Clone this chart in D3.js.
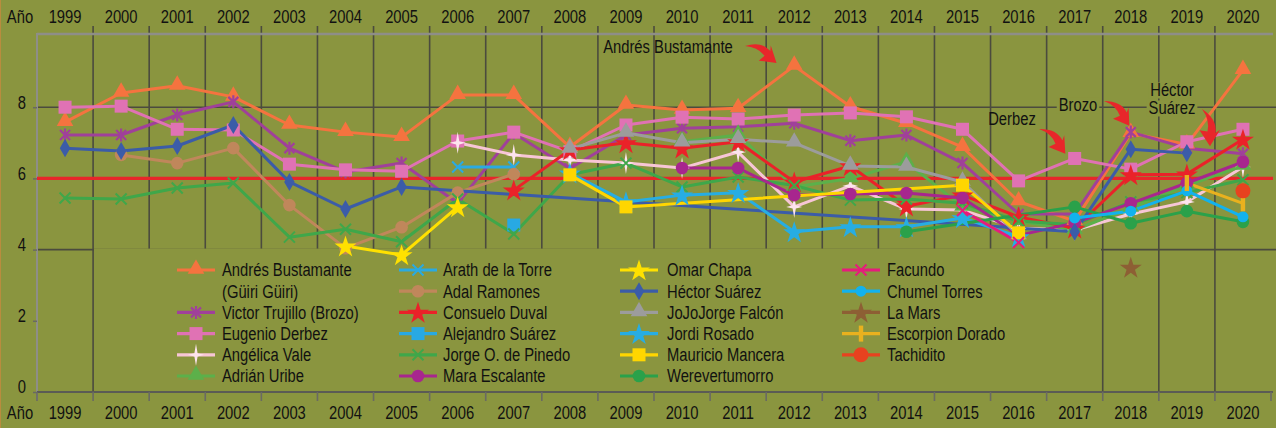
<!DOCTYPE html>
<html>
<head>
<meta charset="utf-8">
<script src="https://cdn.jsdelivr.net/npm/d3@7"></script>
<style>
  html, body { margin: 0; padding: 0; background: #8a953f; }
  svg text { font-family: "Liberation Sans", Arial, sans-serif; fill: #111; }
</style>
</head>
<body>
<svg id="chart" width="1276" height="428"></svg>
<script>
// años (categorias)
const years = ["1999","2000","2001","2002","2003","2004","2005","2006","2007","2008","2009",
               "2010","2011","2012","2013","2014","2015","2016","2017","2018","2019","2020"];
const yTicks = [0, 2, 4, 6, 8];

// valores, 1999..2020 (null = sin dato)
const andres    = [7.58, 8.40, 8.60, 8.29, 7.50, 7.30, 7.16, 8.34, 8.34, 6.88, 8.06, 7.92, 7.97, 9.16, 8.02, 7.55, 6.88, 5.35, 4.80, 7.27, 6.95, 9.04];
const brozo     = [7.22, 7.22, 7.78, 8.15, 6.85, 6.18, 6.43, 5.30, 7.27, 6.28, 7.22, 7.41, 7.45, 7.55, 7.06, 7.22, 6.43, 5.00, 5.00, 7.30, 6.85, 6.69];
const derbez    = [8.00, 8.03, 7.38, 7.36, 6.40, 6.24, 6.20, 7.05, 7.30, 6.75, 7.50, 7.72, 7.67, 7.78, 7.84, 7.73, 7.38, 5.93, 6.56, 6.26, 7.03, 7.38];
const angelica  = [null, null, null, null, null, null, null, 7.00, 6.66, 6.52, 6.43, 6.29, 6.74, 5.20, 5.79, 5.14, 5.11, 4.60, 4.55, 5.00, 5.34, 6.32];
const adrian    = [null, null, null, null, null, null, null, null, null, null, null, 7.03, 7.22, 5.76, 6.00, 6.46, 5.20, 4.80, 4.55, 5.17, 5.80, 6.35];
const arath     = [null, null, null, null, null, null, null, 6.32, 6.32, null, null, null, null, null, null, null, null, null, null, null, null, null];
const adal      = [null, 6.66, 6.43, 6.85, 5.25, 4.04, 4.63, 5.60, 6.12, null, null, null, null, null, null, null, null, null, null, null, null, null];
const consuelo  = [null, null, null, null, null, null, null, null, 5.67, 6.80, 7.00, 6.85, 7.03, 5.90, 6.35, 5.22, 5.53, 4.92, 4.60, 6.10, 6.12, 7.10];
const alejandro = [null, null, null, null, null, null, null, null, 4.69, null, null, null, null, null, null, null, null, null, null, null, null, null];
const jorge     = [5.45, 5.42, 5.73, 5.87, 4.35, 4.57, 4.22, 5.42, 4.44, 6.10, 6.43, 5.76, 6.04, 5.80, 5.39, 5.42, 5.30, 4.80, 4.70, 5.34, 5.60, 5.96];
const mara      = [null, null, null, null, null, null, null, null, null, null, null, 6.29, 6.29, 5.53, 5.56, 5.59, 5.45, 4.40, 4.75, 5.30, 5.87, 6.46];
const omar      = [null, null, null, null, null, 4.10, 3.85, 5.20, null, null, null, null, null, null, null, null, null, null, null, null, null, null];
const hector    = [6.85, 6.77, 6.91, 7.50, 5.90, 5.14, 5.76, null, null, null, null, null, null, null, null, null, null, null, 4.50, 6.82, 6.71, null];
const jojo      = [null, null, null, null, null, null, null, null, null, 6.83, 7.28, 7.00, 7.10, 7.00, 6.35, 6.32, 5.90, 4.40, null, null, null, null];
const jordi     = [null, null, null, null, null, null, null, null, null, 6.15, 5.34, 5.53, 5.60, 4.50, 4.64, 4.64, 4.89, 4.36, null, null, null, null];
const mauricio  = [null, null, null, null, null, null, null, null, null, 6.10, 5.20, null, null, null, null, null, 5.81, 4.47, null, null, null, null];
const were      = [null, null, null, null, null, null, null, null, null, null, null, null, null, null, null, 4.50, null, null, 5.20, 4.74, 5.08, 4.78];
const facundo   = [null, null, null, null, null, null, null, null, null, null, null, null, null, null, null, null, 5.10, 4.20, null, null, null, null];
const chumel    = [null, null, null, null, null, null, null, null, null, null, null, null, null, null, null, null, null, null, 4.89, 5.08, 5.65, 4.92];
const lamars    = [null, null, null, null, null, null, null, null, null, null, null, null, null, null, null, null, null, null, null, 3.50, null, null];
const escorpion = [null, null, null, null, null, null, null, null, null, null, null, null, null, null, null, null, null, null, null, null, 5.87, 5.30];
const tachidito = [null, null, null, null, null, null, null, null, null, null, null, null, null, null, null, null, null, null, null, null, null, 5.65];

// series: nombre, datos, color, marcador, columna/fila de la leyenda
const series = [
  {name: ["Andrés Bustamante", "(Güiri Güiri)"], data: andres, color: "#f5733f", mark: "triangle", col: 0, row: 0},
  {name: ["Victor Trujillo (Brozo)"], data: brozo, color: "#a0409a", mark: "asterisk", col: 0, row: 2},
  {name: ["Eugenio Derbez"], data: derbez, color: "#e072b4", mark: "square", col: 0, row: 3},
  {name: ["Angélica Vale"], data: angelica, color: "#f7c6d6", mark: "sparkle", col: 0, row: 4},
  {name: ["Adrián Uribe"], data: adrian, color: "#5cb04a", mark: "triangle", col: 0, row: 5},
  {name: ["Arath de la Torre"], data: arath, color: "#2aaae2", mark: "x", col: 1, row: 0},
  {name: ["Adal Ramones"], data: adal, color: "#c0875b", mark: "circle", col: 1, row: 1},
  {name: ["Consuelo Duval"], data: consuelo, color: "#ea2229", mark: "star", col: 1, row: 2},
  {name: ["Alejandro Suárez"], data: alejandro, color: "#28a9e3", mark: "square", col: 1, row: 3},
  {name: ["Jorge O. de Pinedo"], data: jorge, color: "#3fa74a", mark: "x", col: 1, row: 4},
  {name: ["Mara Escalante"], data: mara, color: "#a8268e", mark: "circle", col: 1, row: 5},
  {name: ["Omar Chapa"], data: omar, color: "#ffe100", mark: "star", col: 2, row: 0},
  {name: ["Héctor Suárez"], data: hector, color: "#3b5ca8", mark: "diamond", col: 2, row: 1},
  {name: ["JoJoJorge Falcón"], data: jojo, color: "#9c9c9c", mark: "triangle", col: 2, row: 2},
  {name: ["Jordi Rosado"], data: jordi, color: "#27ade3", mark: "star", col: 2, row: 3},
  {name: ["Mauricio Mancera"], data: mauricio, color: "#ffd600", mark: "square", col: 2, row: 4},
  {name: ["Werevertumorro"], data: were, color: "#2aa14a", mark: "circle", col: 2, row: 5},
  {name: ["Facundo"], data: facundo, color: "#e61c7c", mark: "x", col: 3, row: 0},
  {name: ["Chumel Torres"], data: chumel, color: "#12b2ee", mark: "dot", col: 3, row: 1},
  {name: ["La Mars"], data: lamars, color: "#8d5f34", mark: "star", col: 3, row: 2},
  {name: ["Escorpion Dorado"], data: escorpion, color: "#e9b11e", mark: "vbar", col: 3, row: 3},
  {name: ["Tachidito"], data: tachidito, color: "#e8421f", mark: "bigdot", col: 3, row: 4}
];

const notes = [
  {lines: ["Andrés Bustamante"], x: 668, y: 47, tail: [745, 46], tip: [777, 62], box: false},
  {lines: ["Derbez"], x: 1012, y: 119, tail: [1039, 129], tip: [1066, 153], box: false},
  {lines: ["Brozo"], x: 1078, y: 105, tail: [1104, 101], tip: [1130, 125], box: true},
  {lines: ["Héctor", "Suárez"], x: 1172, y: 90, tail: [1202, 109], tip: [1211, 146], box: true}
];

const svg = d3.select("#chart");
const bg = "#8a953f";
const fs = 18;

// texto angosto: se comprime horizontalmente
function squeeze(sel) {
  sel.each(function () {
    const len = this.getComputedTextLength();
    d3.select(this).attr("textLength", len * 0.82).attr("lengthAdjust", "spacingAndGlyphs");
  });
  return sel;
}

svg.append("rect").attr("width", 1276).attr("height", 428).attr("fill", bg);
svg.append("line").attr("x1", 0.5).attr("x2", 0.5).attr("y1", 0).attr("y2", 428)
  .attr("stroke", "#b98c3e").attr("stroke-width", 1);

const x = d3.scaleBand().domain(years).range([37, 1271]);
const y = d3.scaleLinear().domain([0, 10]).range([392, 36]);
const cx = d => x(d) + x.bandwidth() / 2;

// lineas de division verticales
const grid = svg.append("g");
years.slice(1).forEach(yr => {
  grid.append("line").attr("x1", x(yr)).attr("x2", x(yr)).attr("y1", 26).attr("y2", 392)
    .attr("stroke", "#4b4b3e").attr("stroke-width", 1.6);
});
[4, 8].forEach(v => {
  grid.append("line").attr("x1", 37).attr("x2", 1276).attr("y1", y(v)).attr("y2", y(v))
    .attr("stroke", "#4b4b3e").attr("stroke-width", 1.6);
});

// borde superior y eje izquierdo
svg.append("line").attr("x1", 37).attr("x2", 1273).attr("y1", y(10) - 2).attr("y2", y(10) - 2)
  .attr("stroke", "#8e8e88").attr("stroke-width", 2.5);
svg.append("line").attr("x1", 37).attr("x2", 37).attr("y1", y(10) - 3).attr("y2", 400)
  .attr("stroke", "#8e8e88").attr("stroke-width", 2);

// eje inferior con marcas
const xAxis = svg.append("g").attr("transform", `translate(0, ${y(0)})`)
  .call(d3.axisBottom(x).tickSize(0).tickFormat(""));
xAxis.select(".domain").attr("stroke", "#5b5b55").attr("stroke-width", 2).attr("d", "M37,0H1273");
[...years.map(yr => x(yr)), 1271].forEach(px => {
  svg.append("line").attr("x1", px).attr("x2", px).attr("y1", y(0)).attr("y2", y(0) + 9)
    .attr("stroke", "#6a6a62").attr("stroke-width", 1.6);
});

// eje y
const yAxis = svg.append("g").attr("transform", "translate(37,0)")
  .call(d3.axisLeft(y).tickValues(yTicks).tickSize(4).tickPadding(7));
yAxis.select(".domain").remove();
yAxis.selectAll(".tick line").attr("stroke", "#6a6a62").attr("stroke-width", 1.5);
yAxis.selectAll(".tick text").attr("font-size", fs).attr("dy", "0.05em")
  .style("font-family", "'Liberation Sans', Arial, sans-serif").attr("fill", "#111");
squeeze(yAxis.selectAll(".tick text"));

// etiquetas de año arriba y abajo
[17, 413].forEach(ty => {
  squeeze(svg.append("text").attr("x", 20).attr("y", ty).attr("dy", "0.36em").attr("text-anchor", "middle")
    .attr("font-size", fs).text("Año"));
  years.forEach(yr => {
    squeeze(svg.append("text").attr("x", cx(yr)).attr("y", ty).attr("dy", "0.36em").attr("text-anchor", "middle")
      .attr("font-size", fs).text(yr));
  });
});

// linea roja en 6
svg.append("line").attr("x1", 37).attr("x2", 1273).attr("y1", y(6)).attr("y2", y(6))
  .attr("stroke", "#e8262a").attr("stroke-width", 3.2);

// fondo de la leyenda (tapa la reticula)
svg.append("rect").attr("x", 94).attr("y", y(4) - 1).attr("width", 1007).attr("height", y(0) - y(4))
  .attr("fill", bg);

// marcadores
function drawMark(g, kind, color, px, py) {
  const t = `translate(${px},${py})`;
  if (kind === "triangle") {
    g.append("path").attr("d", d3.symbol(d3.symbolTriangle, 120)()).attr("transform", `translate(${px},${py - 1})`).attr("fill", color);
  } else if (kind === "square") {
    g.append("rect").attr("x", px - 6.5).attr("y", py - 6.5).attr("width", 13).attr("height", 13).attr("fill", color);
  } else if (kind === "diamond") {
    g.append("path").attr("d", d3.symbol(d3.symbolDiamond, 95)()).attr("transform", t).attr("fill", color);
  } else if (kind === "circle") {
    g.append("circle").attr("cx", px).attr("cy", py).attr("r", 6.3).attr("fill", color);
  } else if (kind === "dot") {
    g.append("circle").attr("cx", px).attr("cy", py).attr("r", 5.5).attr("fill", color);
  } else if (kind === "bigdot") {
    g.append("circle").attr("cx", px).attr("cy", py).attr("r", 7.5).attr("fill", color);
  } else if (kind === "star") {
    g.append("path").attr("d", d3.symbol(d3.symbolStar, 150)()).attr("transform", `translate(${px},${py + 1})`).attr("fill", color);
  } else if (kind === "x") {
    g.append("path").attr("d", "M-5.5,-5.5L5.5,5.5M-5.5,5.5L5.5,-5.5").attr("transform", t)
      .attr("stroke", color).attr("stroke-width", 2).attr("fill", "none");
  } else if (kind === "asterisk") {
    g.append("path").attr("d", "M-5,-5L5,5M-5,5L5,-5M0,-6.5L0,6.5").attr("transform", t)
      .attr("stroke", color).attr("stroke-width", 2.2).attr("fill", "none");
  } else if (kind === "sparkle") {
    g.append("path").attr("d", "M0,-11L1.6,-1.6L8,0L1.6,1.6L0,11L-1.6,1.6L-8,0L-1.6,-1.6Z")
      .attr("transform", t).attr("fill", "#fde4ee");
  } else if (kind === "vbar") {
    g.append("rect").attr("x", px - 2.2).attr("y", py - 8).attr("width", 4.4).attr("height", 16).attr("fill", color);
  }
}

// leyenda
const lg = svg.append("g");
const colLine = [196, 418, 639, 861];
const colText = [222, 443, 667, 887];
series.forEach(s => {
  const ly = 270 + s.row * 21.2;
  lg.append("line").attr("x1", colLine[s.col] - 19).attr("x2", colLine[s.col] + 19)
    .attr("y1", ly).attr("y2", ly).attr("stroke", s.color).attr("stroke-width", 3.2);
  drawMark(lg, s.mark, s.color, colLine[s.col], ly);
  s.name.forEach((t, i) => {
    squeeze(lg.append("text").attr("x", colText[s.col]).attr("y", ly + i * 21.2).attr("dy", "0.36em")
      .attr("font-size", fs).text(t));
  });
});

// lineas de las series (se unen los puntos aunque falten años)
const line = d3.line().x(d => cx(d.year)).y(d => y(d.v));
const pts = s => years.map((yr, i) => ({year: yr, v: s.data[i]})).filter(d => d.v !== null);
const lines = svg.append("g");
series.forEach(s => {
  lines.append("path").datum(pts(s)).attr("d", line)
    .attr("fill", "none").attr("stroke", s.color).attr("stroke-width", 3).attr("stroke-linejoin", "round");
});
const marks = svg.append("g");
series.forEach(s => {
  pts(s).forEach(d => drawMark(marks, s.mark, s.color, cx(d.year), y(d.v)));
});

// notas con flechas rojas
const arrowPath = "M0,0 Q13,-12 25,-7 L23,-12 L36,1 L19,7 L22,0 Q12,-5 0,0 Z";
notes.forEach(n => {
  const g = svg.append("g");
  n.lines.forEach((t, i) => {
    const tx = squeeze(g.append("text").attr("x", n.x).attr("y", n.y + i * 18).attr("dy", "0.36em")
      .attr("text-anchor", "middle").attr("font-size", fs).text(t));
    if (n.box) {
      const b = tx.node().getBBox();
      g.insert("rect", "text").attr("x", b.x - 2).attr("y", b.y + 2).attr("width", b.width + 4)
        .attr("height", b.height - 4).attr("fill", bg);
    }
  });
  const dx = n.tip[0] - n.tail[0], dy = n.tip[1] - n.tail[1];
  const ang = Math.atan2(dy, dx) * 180 / Math.PI;
  const k = Math.hypot(dx, dy) / 36;
  g.append("path").attr("d", arrowPath)
    .attr("transform", `translate(${n.tail[0]},${n.tail[1]}) rotate(${ang}) scale(${k})`)
    .attr("fill", "#e8262a");
});
</script>
</body>
</html>
